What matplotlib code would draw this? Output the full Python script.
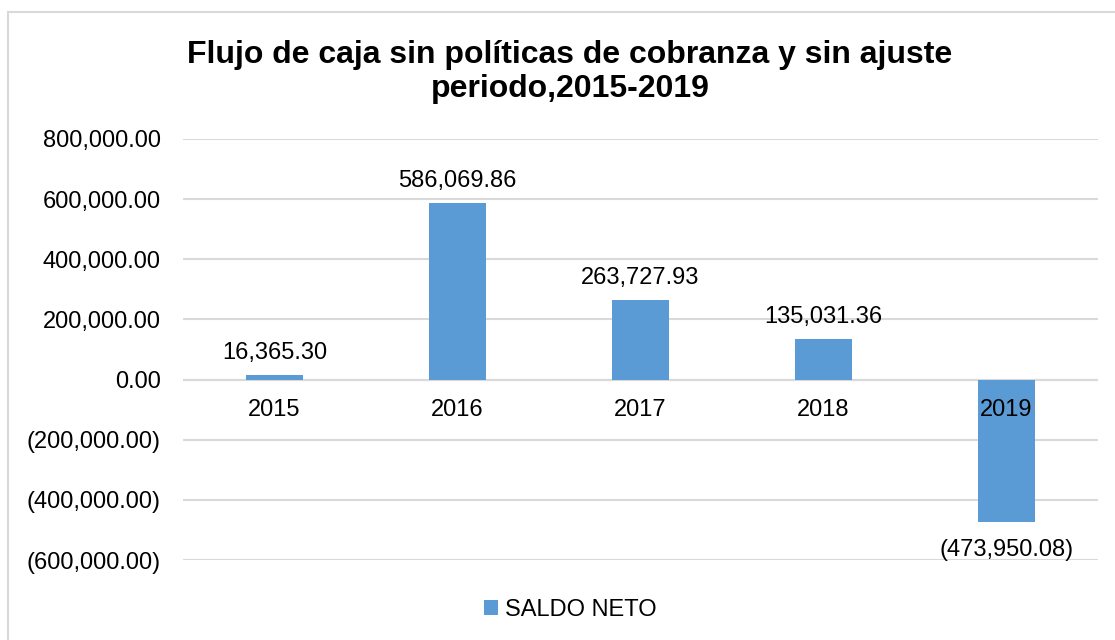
import matplotlib
matplotlib.use("Agg")
import matplotlib.pyplot as plt
from matplotlib.patches import Rectangle
from matplotlib.ticker import FuncFormatter

years = ["2015", "2016", "2017", "2018", "2019"]
saldo_neto = [16365.30, 586069.86, 263727.93, 135031.36, -473950.08]
title = "Flujo de caja sin políticas de cobranza y sin ajuste\nperiodo,2015-2019"
legend_label = "SALDO NETO"

plt.rcParams['font.family'] = ['Liberation Sans', 'DejaVu Sans']

W, H = 1115, 640
fig = plt.figure(figsize=(W / 100, H / 100), dpi=100)

# chart border
fig.patches.append(Rectangle((8 / W, -0.1), 1.2, (H - 12) / H + 0.1,
                             transform=fig.transFigure, fill=False,
                             edgecolor="#d9d9d9", linewidth=1.5))

ax = fig.add_axes([183 / W, 1 - 560 / H, (1098 - 183) / W, (560 - 139) / H])
color = "#5b9bd5"

def fmt(v):
    if v < 0:
        return "({:,.2f})".format(-v)
    return "{:,.2f}".format(v)

x = list(range(len(years)))
bars = ax.bar(x, saldo_neto, width=0.31, color=color, label=legend_label, zorder=3)
ax.set_xlim(-0.5, len(years) - 0.5)
ax.set_ylim(-600000, 800000)
ax.set_yticks(range(-600000, 800001, 200000))
ax.yaxis.set_major_formatter(FuncFormatter(lambda v, p: fmt(v)))
ax.grid(axis="y", color="#d9d9d9", linewidth=1.5, zorder=0)
for s in ax.spines.values():
    s.set_visible(False)
ax.tick_params(axis="y", length=0, labelsize=17, pad=16)
ax.set_xticks([])

# zero line
ax.axhline(0, color="#d9d9d9", linewidth=1.5, zorder=2)

# category labels just below zero
for xi, yr in zip(x, years):
    ax.annotate(yr, (xi, 0), xytext=(0, -14), textcoords="offset points",
                ha="center", va="top", fontsize=17, zorder=5)

# value labels
for xi, v in zip(x, saldo_neto):
    if v >= 0:
        ax.annotate(fmt(v), (xi, v), xytext=(0, 8), textcoords="offset points",
                    ha="center", va="bottom", fontsize=17)
    else:
        ax.annotate(fmt(v), (xi, v), xytext=(0, -12), textcoords="offset points",
                    ha="center", va="top", fontsize=17)

fig.text(570 / W, 1 - 72 / H, title, ha="center", va="center",
         fontsize=23, fontweight="bold", linespacing=1.15)

leg = fig.legend(handles=[bars], labels=[legend_label], loc="center",
                 bbox_to_anchor=(570 / W, 1 - 610 / H), frameon=False,
                 fontsize=17, handlelength=0.6, handleheight=0.6,
                 handletextpad=0.3)

fig.savefig("out.png", dpi=100)
